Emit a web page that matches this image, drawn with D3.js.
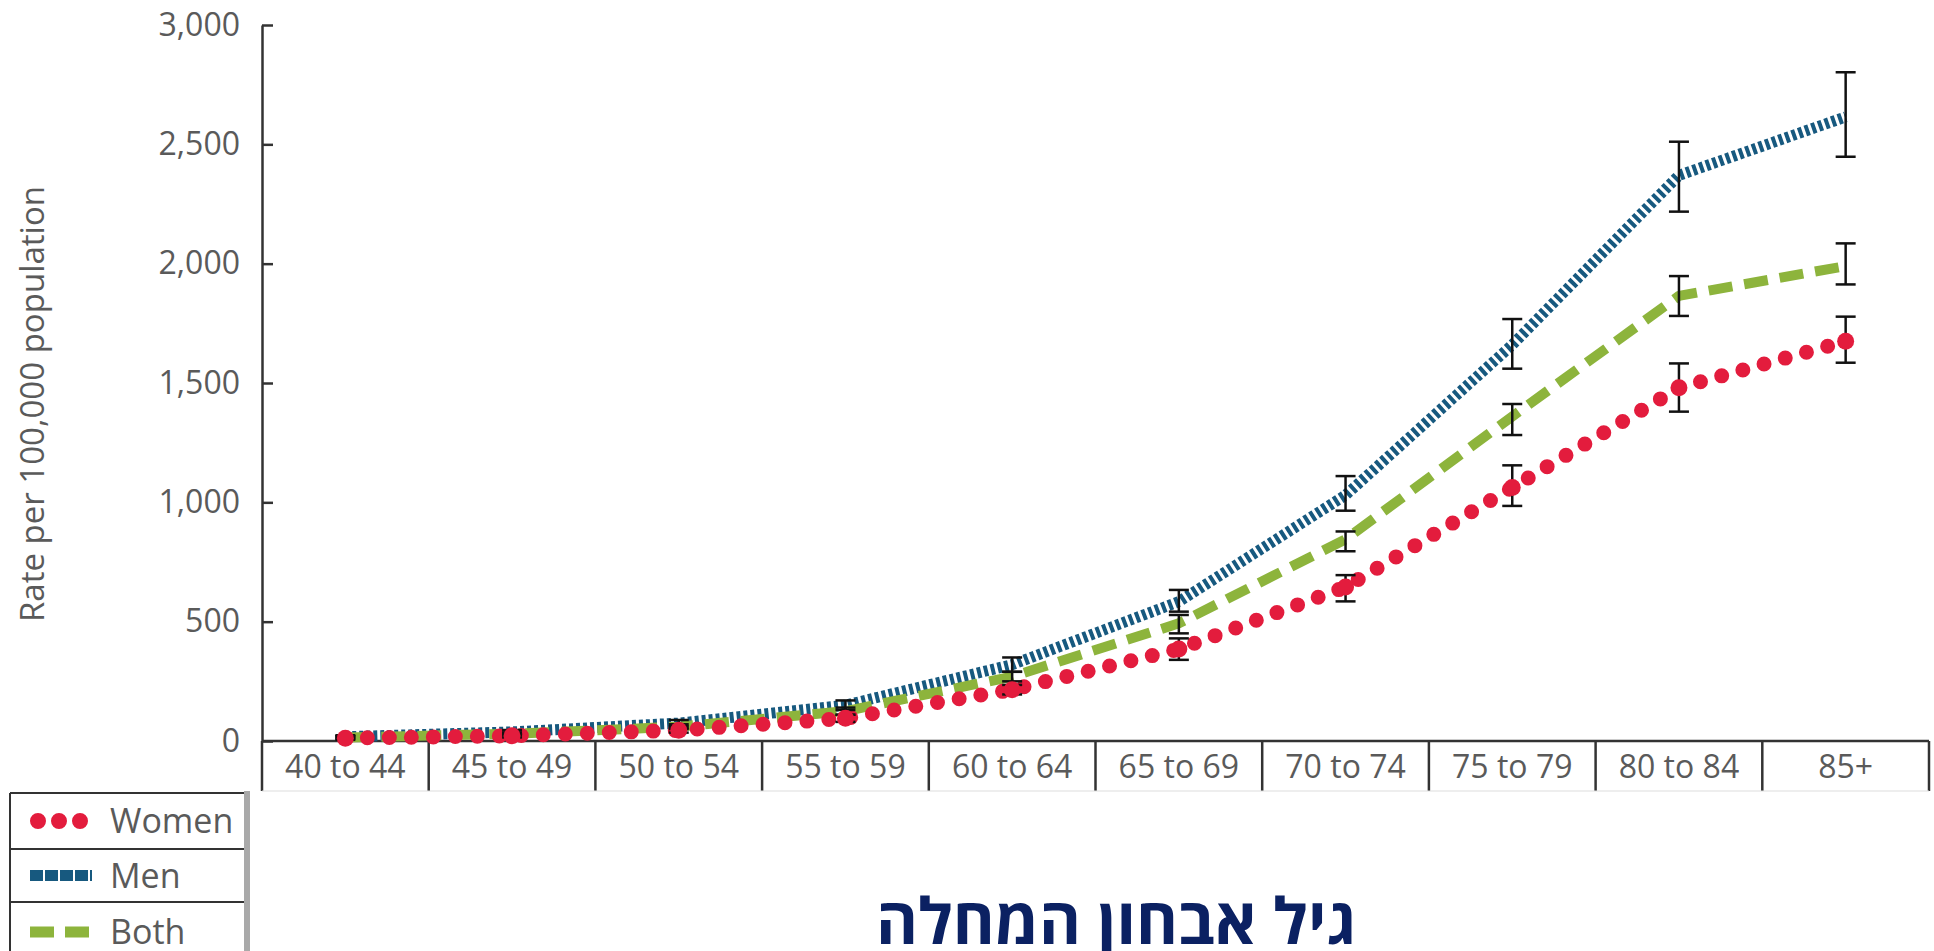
<!DOCTYPE html>
<meta charset="utf-8">
<script src="https://cdn.jsdelivr.net/npm/d3@7"></script>
<style>
  body { margin: 0; background: #fff; }
  text { font-family: "Open Sans", sans-serif; }
</style>
<body></body>
<script>

    // age groups and rates per 100,000
    var categories = ["40 to 44", "45 to 49", "50 to 54", "55 to 59", "60 to 64",
                      "65 to 69", "70 to 74", "75 to 79", "80 to 84", "85+"];
    var women = [12, 22, 45, 95, 215, 385, 645, 1062, 1480, 1675];
    var men = [18, 38, 75, 150, 320, 584, 1030, 1660, 2370, 2615];
    var both = [15, 30, 60, 125, 270, 493, 845, 1360, 1865, 1990];

    // confidence intervals [low, high]
    var womenCI = [[5, 20], [15, 30], [35, 55], [80, 110], [195, 235], [340, 430], [585, 695], [985, 1155], [1380, 1582], [1585, 1778]];
    var menCI = [[12, 24], [30, 46], [62, 88], [130, 170], [290, 350], [542, 633], [965, 1110], [1560, 1768], [2218, 2511], [2448, 2802]];
    var bothCI = [[10, 20], [24, 36], [50, 70], [110, 140], [250, 290], [451, 528], [795, 878], [1282, 1412], [1781, 1948], [1913, 2085]];

    var yTicks = [0, 500, 1000, 1500, 2000, 2500, 3000];
    var legendLabels = ["Women", "Men", "Both"];
    var title = "גיל אבחון המחלה";

    var width = 1934, height = 951;
    var plotLeft = 262, plotRight = 1929, plotTop = 25, base = 741, boxBottom = 791;

    var svg = d3.select("body").append("svg")
        .attr("width", width)
        .attr("height", height);

    var x = d3.scaleBand()
        .domain(categories)
        .range([plotLeft, plotRight]);

    var y = d3.scaleLinear()
        .domain([0, 3000])
        .range([base, plotTop]);

    // y axis, ticks pointing into the plot
    var yAxis = svg.append("g")
        .attr("transform", "translate(" + plotLeft + ",0)")
        .call(d3.axisLeft(y)
            .tickValues(yTicks)
            .tickFormat(d3.format(","))
            .tickSizeInner(-11)
            .tickSizeOuter(0)
            .tickPadding(22));

    yAxis.select(".domain").attr("stroke", "#333").attr("stroke-width", 2.5);
    yAxis.selectAll(".tick line").attr("stroke", "#333").attr("stroke-width", 2.5);
    yAxis.selectAll(".tick text")
        .attr("fill", "#5a5a5a")
        .style("font-size", "32px");

    svg.append("text")
        .attr("transform", "translate(32,404) rotate(-90)")
        .attr("text-anchor", "middle")
        .attr("dy", "0.35em")
        .attr("fill", "#5a5a5a")
        .style("font-size", "33px")
        .text("Rate per 100,000 population");

    // category boxes under the zero line
    var xg = svg.append("g");
    xg.append("line")
        .attr("x1", plotLeft).attr("x2", plotRight)
        .attr("y1", base).attr("y2", base)
        .attr("stroke", "#333").attr("stroke-width", 2.5);
    xg.selectAll(".sep")
        .data(categories.concat([null]))
        .join("line")
        .attr("class", "sep")
        .attr("x1", function(d) { return d === null ? plotRight : x(d); })
        .attr("x2", function(d) { return d === null ? plotRight : x(d); })
        .attr("y1", base).attr("y2", boxBottom)
        .attr("stroke", "#333").attr("stroke-width", 2.5);
    xg.append("line")
        .attr("x1", plotLeft).attr("x2", plotRight)
        .attr("y1", boxBottom).attr("y2", boxBottom)
        .attr("stroke", "#ddd").attr("stroke-width", 1);
    xg.selectAll(".cat")
        .data(categories)
        .join("text")
        .attr("class", "cat")
        .attr("x", function(d) { return x(d) + x.bandwidth() / 2; })
        .attr("y", (base + boxBottom) / 2)
        .attr("dy", "0.36em")
        .attr("text-anchor", "middle")
        .attr("fill", "#5a5a5a")
        .style("font-size", "32px")
        .text(function(d) { return d; });

    var cx = function(i) { return x(categories[i]) + x.bandwidth() / 2; };

    var line = d3.line()
        .x(function(d, i) { return cx(i); })
        .y(function(d) { return y(d); });

    var series = [
        {name: "Men", values: men, ci: menCI, color: "#17597f", width: 11, dash: "4 3", cap: "butt"},
        {name: "Both", values: both, ci: bothCI, color: "#8db43c", width: 10, dash: "24 12", cap: "butt"},
        {name: "Women", values: women, ci: womenCI, color: "#e31c3d", width: 15, dash: "0 22", cap: "round"}
    ];

    svg.selectAll(".series")
        .data(series)
        .join("path")
        .attr("class", "series")
        .attr("d", function(s) { return line(s.values); })
        .attr("fill", "none")
        .attr("stroke", function(s) { return s.color; })
        .attr("stroke-width", function(s) { return s.width; })
        .attr("stroke-dasharray", function(s) { return s.dash; })
        .attr("stroke-linecap", function(s) { return s.cap; })
        .attr("stroke-linejoin", "round");

    // error bars
    var bars = [];
    series.forEach(function(s) {
      s.ci.forEach(function(c, i) { bars.push({i: i, lo: c[0], hi: c[1]}); });
    });

    var eb = svg.selectAll(".eb")
        .data(bars)
        .join("g")
        .attr("class", "eb")
        .attr("stroke", "#111")
        .attr("stroke-width", 2.5);
    eb.append("line")
        .attr("x1", function(d) { return cx(d.i); })
        .attr("x2", function(d) { return cx(d.i); })
        .attr("y1", function(d) { return y(d.lo); })
        .attr("y2", function(d) { return y(d.hi); });
    eb.append("line")
        .attr("x1", function(d) { return cx(d.i) - 10; })
        .attr("x2", function(d) { return cx(d.i) + 10; })
        .attr("y1", function(d) { return y(d.lo); })
        .attr("y2", function(d) { return y(d.lo); });
    eb.append("line")
        .attr("x1", function(d) { return cx(d.i) - 10; })
        .attr("x2", function(d) { return cx(d.i) + 10; })
        .attr("y1", function(d) { return y(d.hi); })
        .attr("y2", function(d) { return y(d.hi); });

    // women markers sit on top
    svg.selectAll(".wdot")
        .data(women)
        .join("circle")
        .attr("class", "wdot")
        .attr("cx", function(d, i) { return cx(i); })
        .attr("cy", function(d) { return y(d); })
        .attr("r", 8.5)
        .attr("fill", "#e31c3d");

    // legend
    var lg = svg.append("g").attr("transform", "translate(10,793)");
    var rowH = [56, 53, 60];
    var rowY = [0, 56, 109];
    lg.append("line").attr("x1", 0).attr("x2", 0).attr("y1", 0).attr("y2", 170)
        .attr("stroke", "#333").attr("stroke-width", 2);
    lg.append("rect").attr("x", 234).attr("y", -2).attr("width", 6).attr("height", 170)
        .attr("fill", "#a9a9a9");
    lg.selectAll(".rowline")
        .data(rowY)
        .join("line")
        .attr("class", "rowline")
        .attr("x1", 0).attr("x2", 234)
        .attr("y1", function(d) { return d; })
        .attr("y2", function(d) { return d; })
        .attr("stroke", "#333").attr("stroke-width", 2);

    var rows = lg.selectAll(".row")
        .data(legendLabels)
        .join("g")
        .attr("class", "row")
        .attr("transform", function(d, i) { return "translate(0," + (rowY[i] + rowH[i] / 2) + ")"; });

    rows.append("text")
        .attr("x", 100)
        .attr("dy", "0.36em")
        .attr("fill", "#5a5a5a")
        .style("font-size", "34px")
        .text(function(d) { return d; });

    // legend swatches
    var sw = {Women: series[2], Men: series[0], Both: series[1]};
    rows.append("line")
        .attr("x1", function(d) { return d === "Women" ? 28 : 20; })
        .attr("x2", function(d) { return d === "Women" ? 80 : 82; })
        .attr("y1", 0).attr("y2", 0)
        .attr("stroke", function(d) { return sw[d].color; })
        .attr("stroke-width", function(d) { return d === "Women" ? 16 : 11; })
        .attr("stroke-linecap", function(d) { return d === "Women" ? "round" : "butt"; })
        .attr("stroke-dasharray", function(d) {
          return d === "Women" ? "0 21" : d === "Men" ? "13 2" : "24 11";
        });

    svg.append("text")
        .attr("x", 1116)
        .attr("y", 944)
        .attr("text-anchor", "middle")
        .attr("direction", "rtl")
        .attr("fill", "#0b2162")
        .style("font-size", "64px")
        .style("font-weight", "bold")
        .text(title);

</script>
